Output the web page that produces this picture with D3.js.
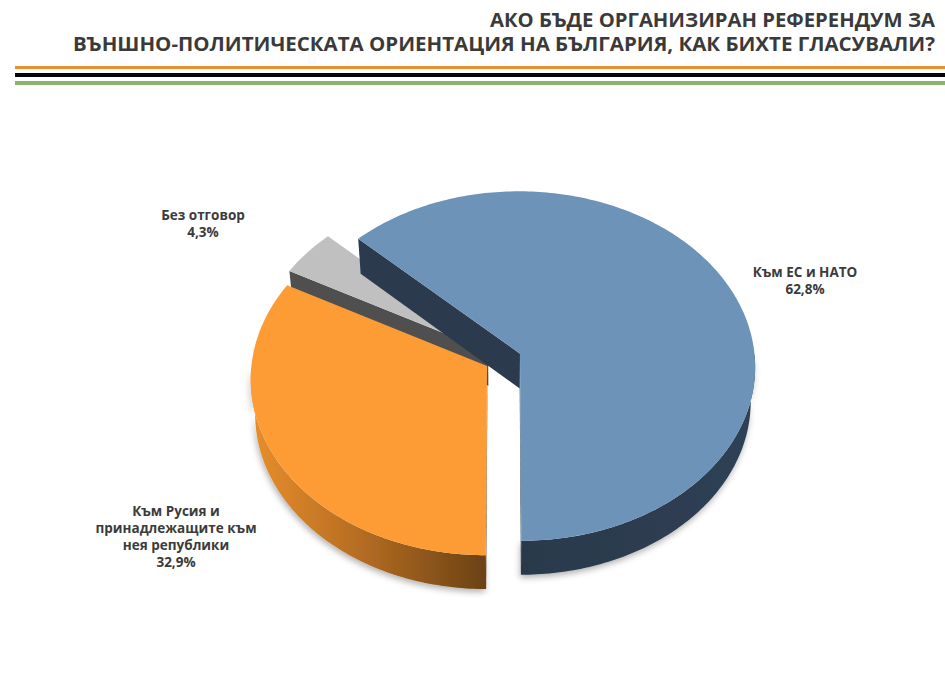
<!DOCTYPE html>
<html><head><meta charset="utf-8">
<script src="https://cdn.jsdelivr.net/npm/d3@7"></script>
<style>body{margin:0;background:#fff}svg{display:block}</style>
</head><body><svg id="c" width="945" height="682"></svg>
<script>
// ---- data ----
const titleLines = ["АКО БЪДЕ ОРГАНИЗИРАН РЕФЕРЕНДУМ ЗА",
                    "ВЪНШНО-ПОЛИТИЧЕСКАТА ОРИЕНТАЦИЯ НА БЪЛГАРИЯ, КАК БИХТЕ ГЛАСУВАЛИ?"];
const categories = ["Към Русия и принадлежащите към нея републики", "Без отговор", "Към ЕС и НАТО"];
const categoryLines = [["Към Русия и", "принадлежащите към", "нея републики"], ["Без отговор"], ["Към ЕС и НАТО"]];
const values = [32.9, 4.3, 62.8];
const valueLabels = ["32,9%", "4,3%", "62,8%"];

// ---- styles / geometry ----
const topColors  = ["#fd9b35", "#c0c0c0", "#6d93b9"];
const faceColors = ["#6d4316", "#4f4f4f", "#2b3a4c"];
const svg = d3.select("#c");
const W = 945;

// header
const title = svg.append("g").attr("font-family", "'Open Sans', 'DejaVu Sans', sans-serif")
  .attr("font-weight", 700).attr("fill", "#3a3a3a").attr("text-anchor", "end");
title.append("text").attr("x", 935).attr("y", 27).attr("font-size", 19.5)
  .attr("textLength", 445).attr("lengthAdjust", "spacingAndGlyphs").text(titleLines[0]);
title.append("text").attr("x", 935).attr("y", 51).attr("font-size", 19.5)
  .attr("textLength", 862).attr("lengthAdjust", "spacingAndGlyphs").text(titleLines[1]);
svg.append("rect").attr("x", 15).attr("y", 66).attr("width", W - 15).attr("height", 3).attr("fill", "#e8902f");
svg.append("rect").attr("x", 15).attr("y", 73).attr("width", W - 15).attr("height", 4).attr("fill", "#050505");
svg.append("rect").attr("x", 15).attr("y", 81).attr("width", W - 15).attr("height", 4).attr("fill", "#8db26a");

// defs
const defs = svg.append("defs");
const og = defs.append("linearGradient").attr("id", "orWall")
  .attr("gradientUnits", "userSpaceOnUse").attr("x1", 255).attr("y1", 0).attr("x2", 488).attr("y2", 0);
og.append("stop").attr("offset", 0).attr("stop-color", "#e68d2c");
og.append("stop").attr("offset", 0.45).attr("stop-color", "#b56d22");
og.append("stop").attr("offset", 1).attr("stop-color", "#6a4115");
const bg = defs.append("linearGradient").attr("id", "blWall")
  .attr("gradientUnits", "userSpaceOnUse").attr("x1", 520).attr("y1", 0).attr("x2", 760).attr("y2", 0);
bg.append("stop").attr("offset", 0).attr("stop-color", "#2a394b");
bg.append("stop").attr("offset", 1).attr("stop-color", "#2f4054");
const sh = defs.append("filter").attr("id", "shadow").attr("x", "-20%").attr("y", "-20%").attr("width", "140%").attr("height", "160%");
sh.append("feDropShadow").attr("dx", -1).attr("dy", 3).attr("stdDeviation", 3)
  .attr("flood-color", "#000").attr("flood-opacity", 0.3);
const wallFill = ["url(#orWall)", "#4f4f4f", "url(#blWall)"];

// 3D perspective projection
const R = 235, alpha = 48 * Math.PI / 180, D = 2208, T = 53, cx = 503, cy = 359, explode = 18.5;
function project(u, w, h) {
  const yp = w * Math.sin(alpha) + h * Math.cos(alpha);
  const zp = w * Math.cos(alpha) - h * Math.sin(alpha);
  const s = D / (D + zp);
  return [cx + u * s, cy - yp * s];
}

const arcs = d3.pie().sort(null).startAngle(Math.PI).endAngle(3 * Math.PI)(values);
const line = d3.line();

function slicePts(a, ang0, ang1, h, r) {
  const mid = (a.startAngle + a.endAngle) / 2;
  const ou = explode * Math.sin(mid), ow = explode * Math.cos(mid);
  const n = Math.max(2, Math.ceil(Math.abs(ang1 - ang0) * 60));
  const pts = [];
  for (let i = 0; i <= n; i++) {
    const t = ang0 + (ang1 - ang0) * i / n;
    pts.push(project(ou + r * Math.sin(t), ow + r * Math.cos(t), h));
  }
  return pts;
}
function apex(a, h) {
  const mid = (a.startAngle + a.endAngle) / 2;
  return project(explode * Math.sin(mid), explode * Math.cos(mid), h);
}

const order = [1, 2, 0];
const pieG = svg.append("g");
order.forEach(i => {
  const a = arcs[i];
  const g = pieG.append("g");
  // cut faces
  [[a.startAngle, Math.sin(a.startAngle) <= 0.001], [a.endAngle, Math.sin(a.endAngle) >= -0.001]].forEach(([ang, vis]) => {
    if (!vis) return;
    const top = slicePts(a, ang, ang, 0, R)[0], bot = slicePts(a, ang, ang, -T, R)[0];
    g.append("path").attr("d", line([apex(a, 0), top, bot, apex(a, -T)]) + "Z")
      .attr("fill", faceColors[i]);
  });
  // outer wall (front half)
  for (let k = 0; k <= 1; k++) {
    const lo = Math.max(a.startAngle, Math.PI / 2 + 2 * Math.PI * k);
    const hi = Math.min(a.endAngle, 3 * Math.PI / 2 + 2 * Math.PI * k);
    if (hi > lo) {
      const topP = slicePts(a, lo, hi, 0, R), botP = slicePts(a, lo, hi, -T, R).reverse();
      g.append("path").attr("d", line(topP.concat(botP)) + "Z")
        .attr("fill", wallFill[i]).attr("filter", "url(#shadow)");
    }
  }
  // top face
  const tp = [apex(a, 0)].concat(slicePts(a, a.startAngle, a.endAngle, 0, R));
  g.append("path").attr("d", line(tp) + "Z").attr("fill", topColors[i]);
});

// labels
const labelPos = [[176, 516], [203, 220], [805, 277]];
const lg = svg.append("g").attr("font-family", "'Open Sans', 'DejaVu Sans', sans-serif")
  .attr("font-weight", 700).attr("font-size", 13.5).attr("fill", "#3b3b3b").attr("text-anchor", "middle");
categoryLines.forEach((lines, i) => {
  const t = lg.append("text").attr("x", labelPos[i][0]).attr("y", labelPos[i][1]);
  lines.concat([valueLabels[i]]).forEach((s, j) => {
    t.append("tspan").attr("x", labelPos[i][0]).attr("dy", j === 0 ? 0 : 17).text(s);
  });
});
</script></body></html>
